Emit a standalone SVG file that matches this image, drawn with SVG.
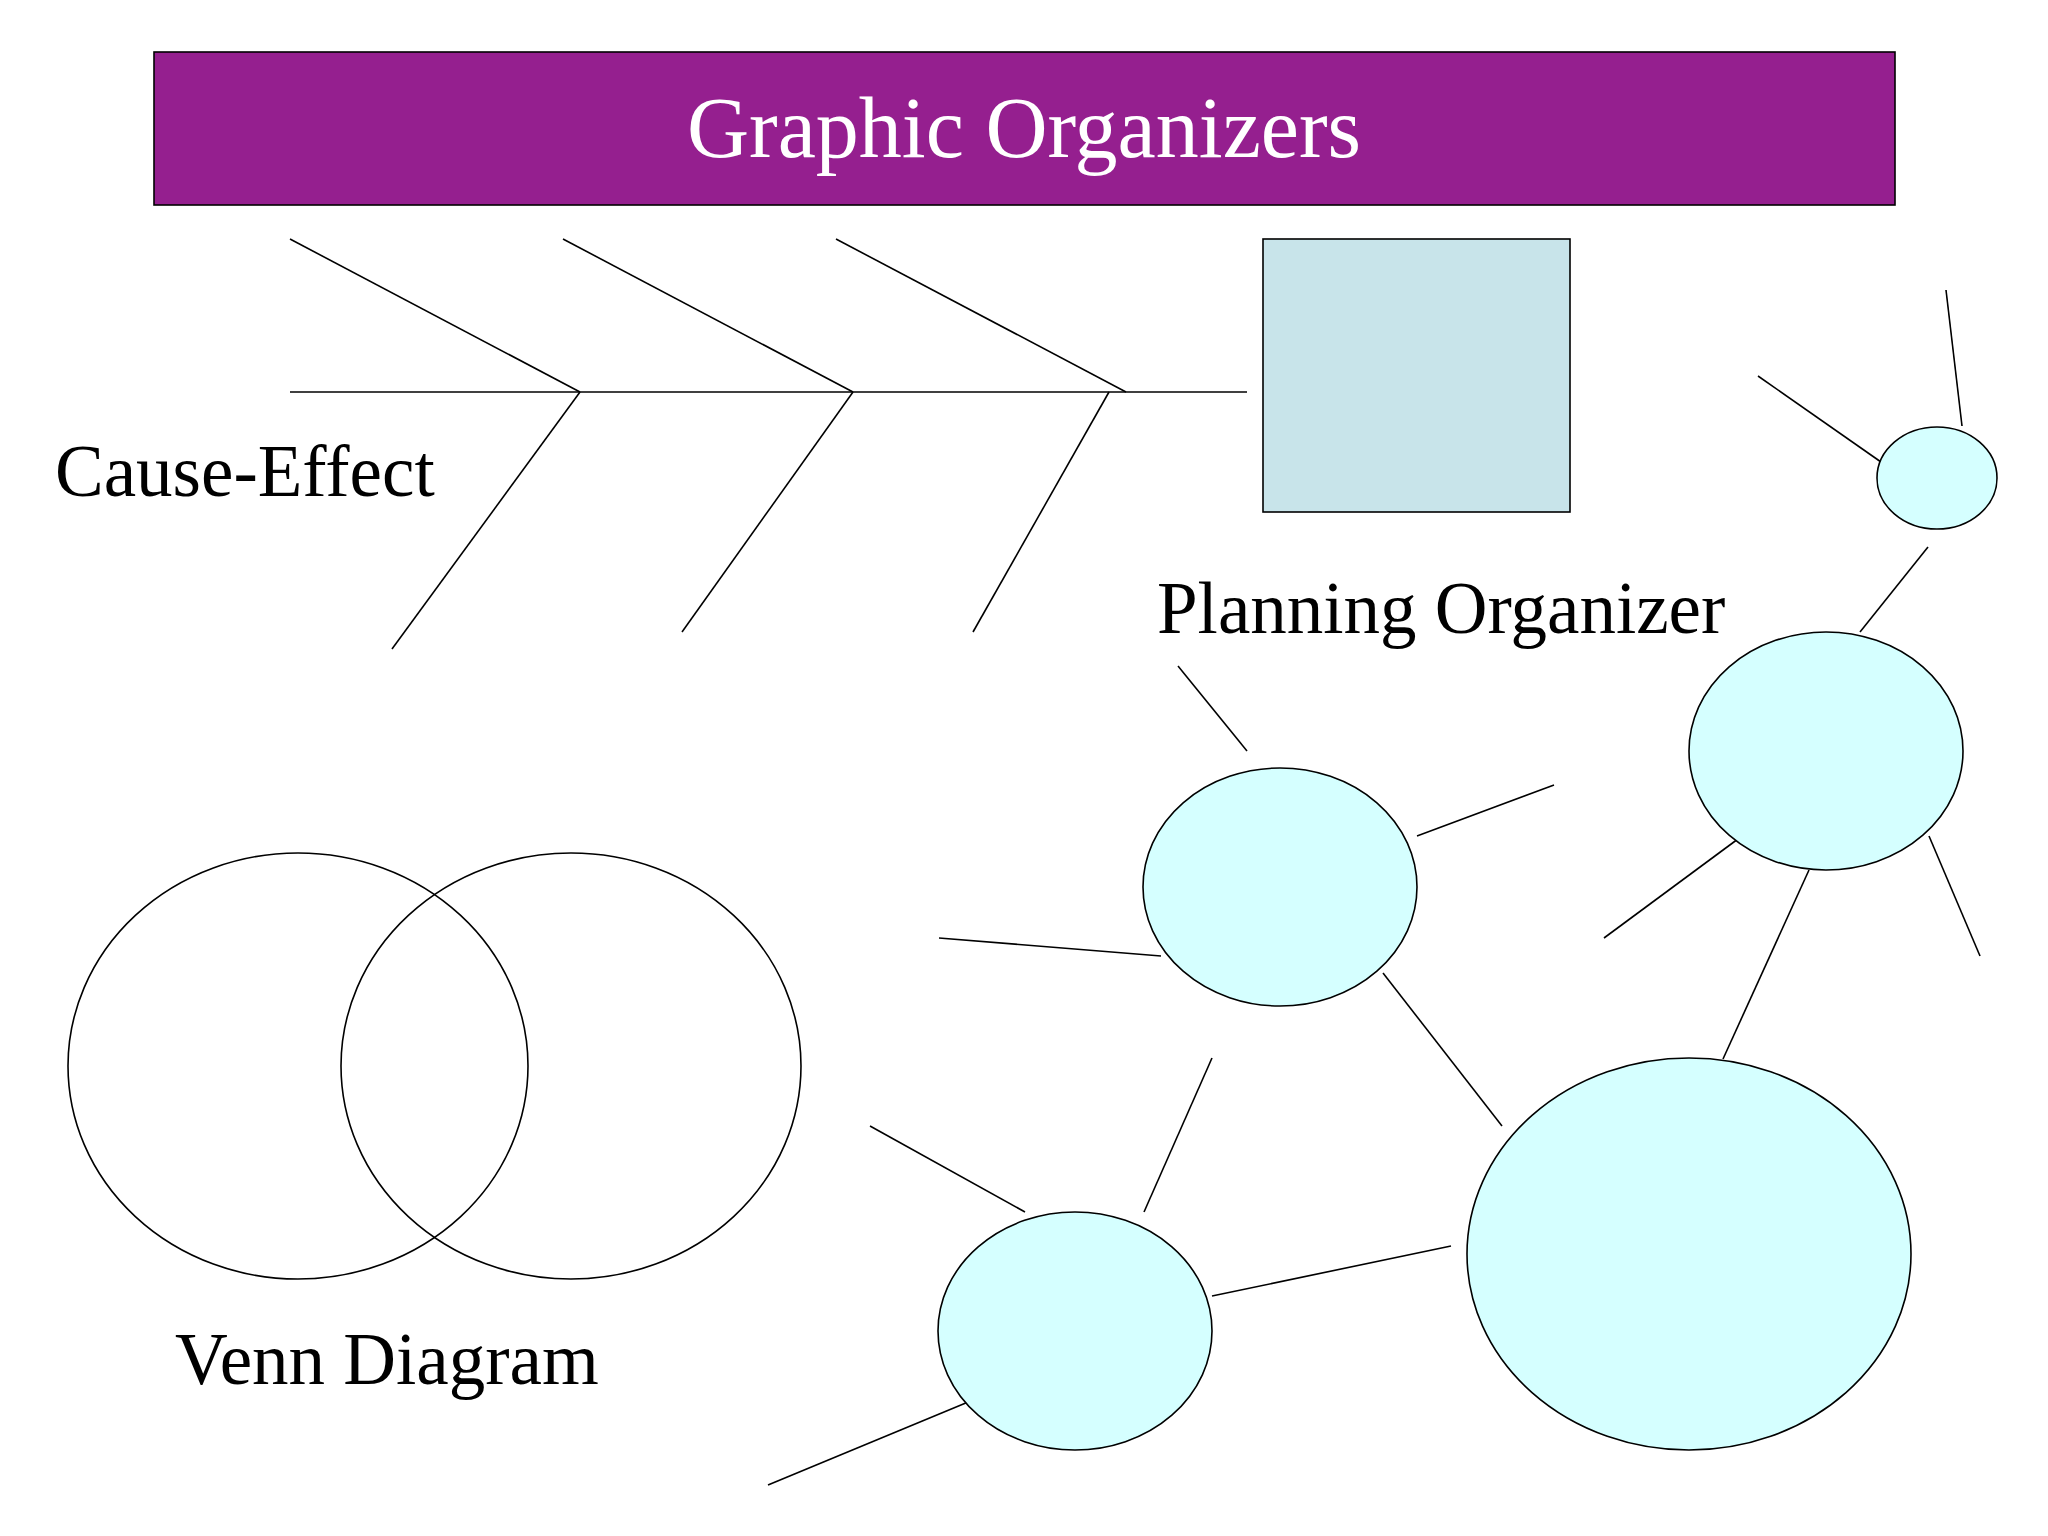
<svg xmlns="http://www.w3.org/2000/svg" width="2048" height="1536" viewBox="0 0 2048 1536">
<style>
.l{stroke:#000;stroke-width:1.6;fill:none}
.t{font-family:"Liberation Serif",serif;fill:#000;font-size:73px}
.b{fill:#D5FFFF;stroke:#000;stroke-width:1.6}
</style>
<rect width="2048" height="1536" fill="#fff"/>
<g id="title"><rect x="154" y="52" width="1741" height="153" fill="#951F8F" stroke="#000" stroke-width="1.6"/>
<text x="1024" y="157" text-anchor="middle" font-family="Liberation Serif,serif" font-size="86" fill="#fff">Graphic Organizers</text></g>
<g id="fishbone" class="l">
<line x1="290" y1="392" x2="1247" y2="392"/>
<line x1="290" y1="239" x2="580" y2="392"/>
<line x1="563" y1="239" x2="853" y2="392"/>
<line x1="836" y1="239" x2="1126" y2="392"/>
<line x1="580" y1="392" x2="392" y2="649"/>
<line x1="853" y1="392" x2="682" y2="632"/>
<line x1="1109" y1="392" x2="973" y2="632"/>
</g>
<text class="t" x="55" y="496">Cause-Effect</text>
<g id="planning"><rect x="1263" y="239" width="307" height="273" fill="#C8E4EA" stroke="#000" stroke-width="1.6"/></g>
<text class="t" x="1157" y="633">Planning Organizer</text>
<g id="venn">
<ellipse class="l" cx="298" cy="1066" rx="230" ry="213"/>
<ellipse class="l" cx="571" cy="1066" rx="230" ry="213"/>
</g>
<text class="t" x="175" y="1384">Venn Diagram</text>
<g id="connectors" class="l">
<line x1="1946" y1="290" x2="1962" y2="426"/>
<line x1="1758" y1="376" x2="1881" y2="462"/>
<line x1="1928" y1="547" x2="1860" y2="632"/>
<line x1="1178" y1="666" x2="1247" y2="751"/>
<line x1="1417" y1="836" x2="1554" y2="785"/>
<line x1="939" y1="938" x2="1161" y2="956"/>
<line x1="1742" y1="836" x2="1604" y2="938"/>
<line x1="1929" y1="836" x2="1980" y2="956"/>
<line x1="1809" y1="870" x2="1723" y2="1059"/>
<line x1="1383" y1="973" x2="1502" y2="1126"/>
<line x1="1212" y1="1058" x2="1144" y2="1212"/>
<line x1="870" y1="1126" x2="1025" y2="1212"/>
<line x1="1212" y1="1296" x2="1451" y2="1246"/>
<line x1="973" y1="1400" x2="768" y2="1485"/>
</g>
<g id="n1"><ellipse class="b" cx="1937" cy="478" rx="60" ry="51"/></g>
<g id="n2"><ellipse class="b" cx="1826" cy="751" rx="137" ry="119"/></g>
<g id="n3"><ellipse class="b" cx="1280" cy="887" rx="137" ry="119"/></g>
<g id="n4"><ellipse class="b" cx="1689" cy="1254" rx="222" ry="196"/></g>
<g id="n5"><ellipse class="b" cx="1075" cy="1331" rx="137" ry="119"/></g>
</svg>
